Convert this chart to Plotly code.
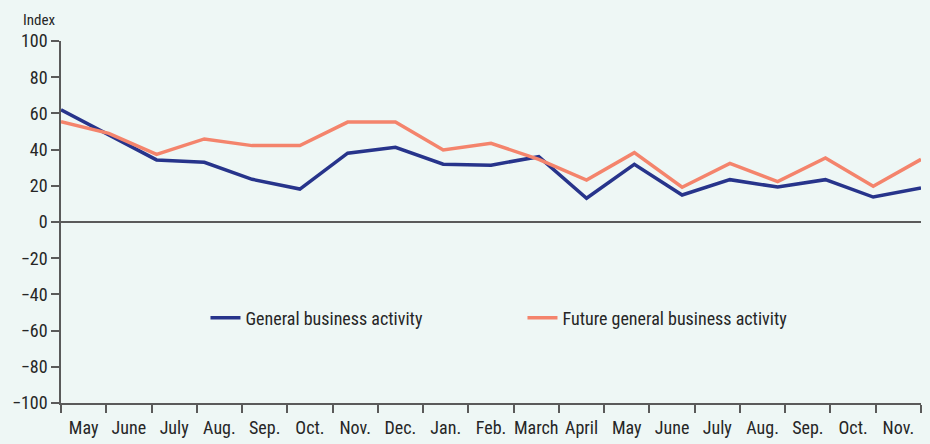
import plotly.graph_objects as go

months = ["May", "June", "July", "Aug.", "Sep.", "Oct.", "Nov.", "Dec.", "Jan.", "Feb.",
          "March", "April", "May", "June", "July", "Aug.", "Sep.", "Oct.", "Nov."]
years = ["'24"] * 8 + ["'25"] * 11
general = [62, 48, 34.3, 33, 23.6, 18.2, 38, 41.3, 31.9, 31.4, 36.1, 13.1, 31.9, 14.9,
           23.4, 19.3, 23.4, 13.8, 18.8]
future = [55.4, 49, 37.4, 45.9, 42.2, 42.2, 55.2, 55.2, 39.8, 43.5, 34.6, 23.2, 38.3,
          19.2, 32.4, 22.3, 35.4, 19.7, 34.6]
y_ticks = [100, 80, 60, 40, 20, 0, -20, -40, -60, -80, -100]

n = len(months)
xs = list(range(n))
span = n - 1
label_pos = [(i + 0.5) * span / n for i in range(n)]
bound_pos = [i * span / n for i in range(n + 1)]
labels = [f"{m}<br>{y}" for m, y in zip(months, years)]

FONT = "Liberation Sans Narrow, Roboto Condensed, DejaVu Sans Condensed, Arial Narrow, sans-serif"
BG = "#eef7f5"
AX = "#5a5a5a"
TXT = "#262626"

fig = go.Figure()
fig.add_trace(go.Scatter(x=xs, y=general, mode="lines", name="General business activity",
                         line=dict(color="#27348b", width=3.5)))
fig.add_trace(go.Scatter(x=xs, y=future, mode="lines", name="Future general business activity",
                         line=dict(color="#f4846c", width=3.5)))

fig.update_layout(
    width=930, height=444, autosize=False,
    margin=dict(l=61, r=9, t=41, b=41, autoexpand=False),
    paper_bgcolor=BG, plot_bgcolor=BG,
    font=dict(family=FONT, size=18, color=TXT),
    showlegend=True,
    legend=dict(orientation="h", x=0.168, y=0.235, xanchor="left", yanchor="middle",
                bgcolor="rgba(0,0,0,0)", entrywidth=272, entrywidthmode="pixels",
                font=dict(size=18, color=TXT)),
    xaxis=dict(range=[0, span], tickvals=label_pos, ticktext=labels, ticks="outside",
               ticklen=8, tickcolor="rgba(0,0,0,0)", showgrid=False, zeroline=False,
               showline=True, linecolor=AX, linewidth=1.5, automargin=False,
               minor=dict(tickvals=bound_pos, ticks="outside", ticklen=8, tickcolor=AX,
                          tickwidth=1.5, showgrid=False),
               tickfont=dict(size=18)),
    yaxis=dict(range=[-100, 100], tickvals=y_ticks, ticks="outside", ticklen=8, tickcolor=AX,
               tickwidth=1.5, showgrid=False, zeroline=True, zerolinecolor=AX, zerolinewidth=1.5,
               showline=True, linecolor=AX, linewidth=1.5, automargin=False,
               tickfont=dict(size=18)),
    annotations=[dict(text="Index", x=-0.047, y=1.058, xref="paper", yref="paper",
                      xanchor="left", yanchor="middle", showarrow=False, font=dict(size=15))],
)
fig.write_html("out.html", config={"responsive": False, "displayModeBar": False},
               post_script="document.body.style.margin='0';document.body.style.overflow='hidden';")
